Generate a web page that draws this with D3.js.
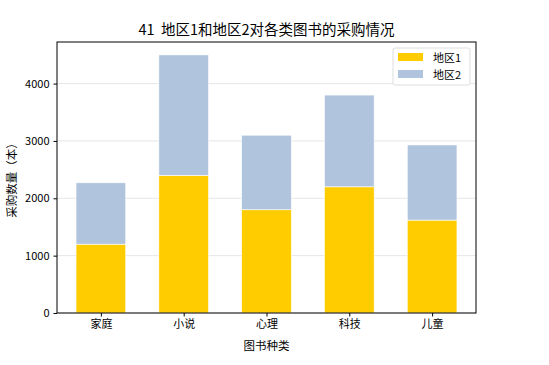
<!DOCTYPE html>
<html><head><meta charset="utf-8">
<script src="https://cdn.jsdelivr.net/npm/d3@7"></script>
<style>body{margin:0;background:#fff;} text{font-family:"Noto Sans CJK SC","DejaVu Sans",sans-serif;}</style>
</head><body>
<svg id="c" width="549" height="365"></svg>
<script>
const categories = ["家庭","小说","心理","科技","儿童"];
const region1 = [1200, 2400, 1800, 2200, 1620];
const region2 = [1070, 2100, 1300, 1600, 1310];
const seriesNames = ["地区1","地区2"];
const yTicks = [0,1000,2000,3000,4000];
const colors = ["#FFCC00","#B0C4DE"];

const svg = d3.select("#c");
const L=57, R=476, T=42, B=313;
const n = categories.length;
const x = d3.scaleLinear().domain([-0.53, n-1+0.53]).range([L,R]);
const totals = region1.map((v,i)=>v+region2[i]);
const y = d3.scaleLinear().domain([0, d3.max(totals)*1.05]).range([B,T]);
const bw = x(0.6)-x(0);

// grid
svg.append("g").selectAll("line").data(yTicks).join("line")
  .attr("x1",L).attr("x2",R).attr("y1",d=>y(d)).attr("y2",d=>y(d))
  .attr("stroke","#e6e6e6").attr("stroke-width",1);

const stack = [region1, region2];
stack.forEach((s,si)=>{
  svg.append("g").selectAll("rect").data(s).join("rect")
    .attr("x",(d,i)=>x(i)-bw/2)
    .attr("width",bw)
    .attr("y",(d,i)=>y(d + (si===1?region1[i]:0)))
    .attr("height",(d,i)=>y(si===1?region1[i]:0)-y(d + (si===1?region1[i]:0)))
    .attr("fill",colors[si]).attr("stroke","#fff").attr("stroke-width",0.6);
});

// axes
const xa = svg.append("g").attr("transform",`translate(0,${B})`)
  .call(d3.axisBottom(x).tickValues(d3.range(n)).tickFormat(i=>categories[i]).tickSize(3.5).tickPadding(4));
const ya = svg.append("g").attr("transform",`translate(${L},0)`)
  .call(d3.axisLeft(y).tickValues(yTicks).tickFormat(d3.format("d")).tickSize(3.5).tickPadding(4));
[xa,ya].forEach(a=>{a.select(".domain").remove(); a.selectAll("text").attr("font-size",11).attr("fill","#000"); a.selectAll("line").attr("stroke","#000");});

svg.append("rect").attr("x",L).attr("y",T).attr("width",R-L).attr("height",B-T)
  .attr("fill","none").attr("stroke","#000").attr("stroke-width",1);

svg.append("text").attr("x",(L+R)/2).attr("y",35).attr("text-anchor","middle")
  .attr("font-size",14.5).style("white-space","pre").text("41  地区1和地区2对各类图书的采购情况");
svg.append("text").attr("x",(L+R)/2).attr("y",350).attr("text-anchor","middle")
  .attr("font-size",11.5).text("图书种类");
svg.append("text").attr("transform",`translate(15.5,${(T+B)/2}) rotate(-90)`).attr("text-anchor","middle")
  .attr("font-size",11.5).text("采购数量（本）");

// legend
const lg = svg.append("g");
lg.append("rect").attr("x",393).attr("y",48).attr("width",77).attr("height",37).attr("rx",2)
  .attr("fill","#fff").attr("stroke","#ddd");
seriesNames.forEach((s,i)=>{
  lg.append("rect").attr("x",398).attr("y",53+i*17).attr("width",25).attr("height",8).attr("fill",colors[i]);
  lg.append("text").attr("x",433).attr("y",61.5+i*17).attr("font-size",11).text(s);
});
</script>
</body></html>
